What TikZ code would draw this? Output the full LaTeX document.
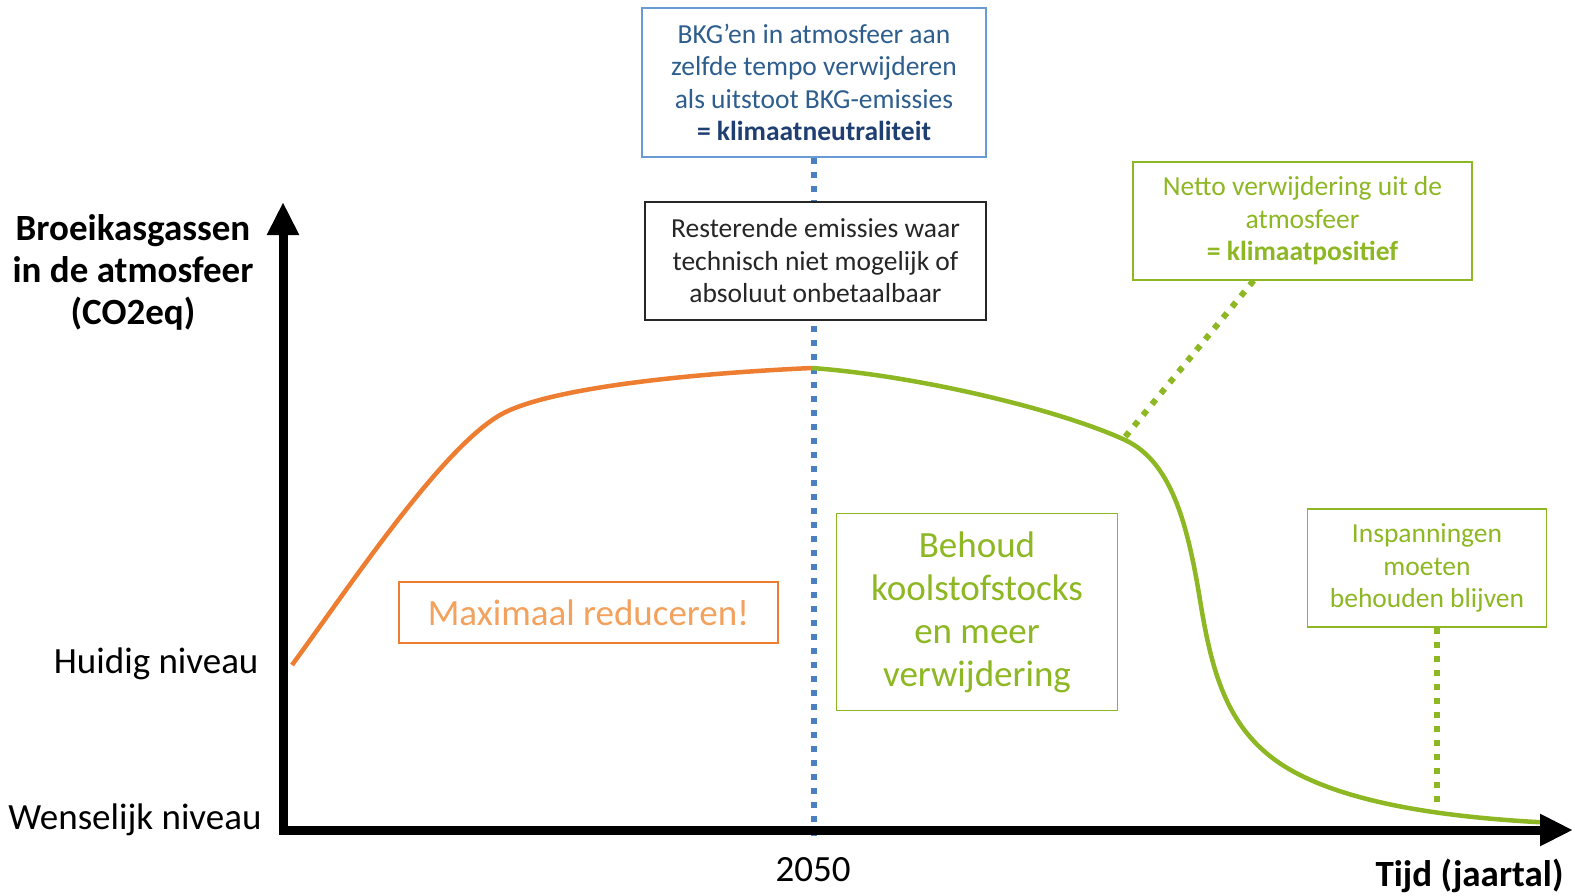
\documentclass[tikz,border=0pt]{standalone}
\usepackage{fontspec}
\setmainfont{Carlito}
\usetikzlibrary{arrows.meta}
\definecolor{kOrange}{HTML}{ED7D31}
\definecolor{kOrangeLt}{HTML}{F3A25E}
\definecolor{kGreen}{HTML}{8DB723}
\definecolor{kBlue}{HTML}{4A7FC1}
\definecolor{kBlueBox}{HTML}{6A9AD4}
\definecolor{kBlueTxt}{HTML}{2E5E8E}
\definecolor{kBlueDk}{HTML}{1F3F73}
\begin{document}
\begin{tikzpicture}[x=1pt,y=-1pt,
		box/.style={draw,fill=white,line width=1.3pt,align=center,inner sep=0pt},
		small/.style={font=\fontsize{27.5}{32.5}\selectfont},
		big/.style={font=\fontsize{37}{43}\selectfont},
		lab/.style={font=\fontsize{37}{42}\selectfont},
		boldlab/.style={font=\fontsize{37}{42}\selectfont\bfseries},
		axis/.style={line width=9pt,-{Triangle[length=33pt,width=30pt]}},
		dots/.style={line width=6pt,dash pattern=on 6pt off 8pt}]
	\useasboundingbox (0,0) rectangle (1573,895);
	% axes
	\coordinate (org) at (283,830);
	\coordinate (ytip) at (283,202);
	\coordinate (xtip) at (1573,830);
	\coordinate (base2050) at (813,837);
	\coordinate (bend) at (1125,437);
	\coordinate (keepfoot) at (1437,808);
	% boxes
	\node[box,draw=kBlueBox,text=kBlueTxt,small,minimum width=344pt,minimum height=149pt] (neutral) at (814,82.5)
		{BKG’en in atmosfeer aan\\zelfde tempo verwijderen\\als uitstoot BKG-emissies\\{\bfseries\color{kBlueDk}= klimaatneutraliteit}};
	\draw[dots,kBlue] (neutral.south) -- (neutral.south |- base2050);
	% curve
	\draw[line width=4.5pt,kOrange] (292,665) .. controls (350,586) and (440,450) .. (500,415)
		.. controls (545,389) and (680,374) .. (812,368);
	\draw[line width=4.5pt,kGreen] (812,368) .. controls (920,376) and (1060,410) .. (1125,440)
		.. controls (1170,461) and (1187,520) .. (1200,600)
		.. controls (1213,680) and (1230,740) .. (1300,775)
		.. controls (1360,805) and (1450,818) .. (1555,823);
	\node[box,draw=black!85,text=black!85,small,minimum width=341pt,minimum height=118pt] (rest) at (815.5,261)
		{Resterende emissies waar\\technisch niet mogelijk of\\absoluut onbetaalbaar};
	\node[box,draw=kGreen,text=kGreen,small,minimum width=339pt,minimum height=118pt] (positive) at (1302.5,221)
		{Netto verwijdering uit de\\atmosfeer\\\textbf{= klimaatpositief}};
	\node[box,draw=kGreen,text=kGreen,small,minimum width=239pt,minimum height=118pt] (keep) at (1427,568)
		{Inspanningen\\moeten\\behouden blijven};
	\node[box,draw=kGreen,text=kGreen,big,minimum width=281pt,minimum height=197pt] (behoud) at (977,612)
		{Behoud\\koolstofstocks\\en meer\\verwijdering};
	\node[box,draw=kOrange,text=kOrangeLt,big,minimum width=379pt,minimum height=61pt] (reduce) at (588.5,612.5)
		{Maximaal reduceren!};
	\draw[dots,kGreen] (positive) -- (bend);
	\draw[dots,kGreen] ([xshift=10pt]keep.south) -- (keepfoot);
	% axes on top
	\draw[axis] ([yshift=4.5pt]org) -- (ytip);
	\draw[axis] ([xshift=-4.5pt]org) -- (xtip);
	% axis labels
	\node[align=center,boldlab] (ylab) at (133,272) {Broeikasgassen\\in de atmosfeer\\(CO2eq)};
	\node[anchor=base east,lab] (now) at (262,673) {Huidig niveau};
	\node[anchor=base east,lab] (goal) at (265,829) {Wenselijk niveau};
	\node[anchor=base,lab] (year) at (813,881) {2050};
	\node[anchor=base east,boldlab] (xlab) at (1567,886) {Tijd (jaartal)};
\end{tikzpicture}
\end{document}
